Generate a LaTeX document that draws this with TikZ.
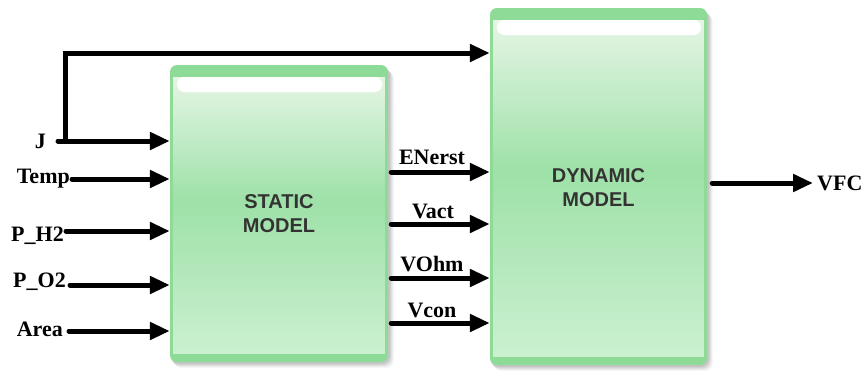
\documentclass[tikz,border=0pt]{standalone}
\usepackage{fontspec}
\setmainfont{Liberation Serif}
\setsansfont{Liberation Sans}
\usetikzlibrary{arrows.meta,calc}
\definecolor{gband}{RGB}{142,219,152}
\definecolor{gtop}{RGB}{228,245,228}
\definecolor{gmid}{RGB}{158,225,168}
\definecolor{gbot}{RGB}{202,240,207}
\definecolor{ttl}{RGB}{51,51,51}
\tikzset{
  arr/.style={line width=5pt, line cap=round, -{Triangle[length=20pt,width=17pt]}},
  lbl/.style={font=\fontsize{22}{24}\selectfont\bfseries, inner sep=0pt},
  ttlf/.style={font=\sffamily\bfseries\fontsize{20}{24}\selectfont, text=ttl, align=center},
  blk/.style={draw=none, inner sep=0pt},
}
\newcommand\drawgreenbox[4]{%
  \foreach \k/\o in {6/0.03,5/0.04,4/0.05,3/0.06,2/0.07}{%
    \fill[black,opacity=\o,rounded corners=8pt] (#1+\k-2,#2+\k) rectangle (#3+\k,#4+\k);}
  \fill[gband, rounded corners=7pt] (#1,#2) rectangle (#3,#4);
  \pgfmathsetmacro\gstep{(#4-#2-21)/80}%
  \foreach \i in {0,...,79}{%
    \pgfmathsetmacro\ya{#2+12+\gstep*\i}%
    \pgfmathsetmacro\yb{\ya+\gstep+0.6}%
    \pgfmathsetmacro\gfr{\i/79}%
    \pgfmathsetmacro\pa{min(100,100*\gfr/0.45)}%
    \pgfmathsetmacro\pb{max(0,100*(\gfr-0.45)/0.55)}%
    \fill[gmid!\pa!gtop] (#1+3,\ya) rectangle (#3-3,\yb);
    \ifdim\gfr pt>0.45pt \fill[gbot!\pb!gmid] (#1+3,\ya) rectangle (#3-3,\yb);\fi
  }
  \fill[white, rounded corners=7pt] (#1+7,#2+12) rectangle (#3-6,#2+27);
}
\begin{document}
\begin{tikzpicture}[x=1pt,y=-1pt]
\useasboundingbox (0,0) rectangle (861,372);
% boxes
\drawgreenbox{170}{65}{388}{362}
\drawgreenbox{490}{8}{707}{365}
\node[blk, ttlf, minimum width=218pt, minimum height=297pt] (static) at (279,214) {STATIC\\MODEL};
\node[blk, ttlf, minimum width=217pt, minimum height=357pt] (dynamic) at (598.5,188) {DYNAMIC\\MODEL};
% row coordinates
\coordinate (rTop) at (0,53);
\coordinate (rJ) at (0,141);
\coordinate (rT) at (0,179);
\coordinate (rH) at (0,231);
\coordinate (rO) at (0,285);
\coordinate (rA) at (0,331);
\coordinate (rE) at (0,172);
\coordinate (rV) at (0,224);
\coordinate (rR) at (0,278);
\coordinate (rC) at (0,323);
\coordinate (rF) at (0,183);
% input labels
\node[lbl, anchor=base east] (J) at (46,148) {J};
\node[lbl, anchor=base east] (Temp) at (70,183) {Temp};
\node[lbl, anchor=base east] (PH) at (64,241) {P\_H2};
\node[lbl, anchor=base east] (PO) at (66,287) {P\_O2};
\node[lbl, anchor=base east] (Area) at (63,336) {Area};
% input arrows
\coordinate (jb) at (65,141);
\draw[arr] ($(J.east |- rJ)+(12,0)$) -- (static.west |- rJ);
\draw[arr] (jb) -- (jb |- rTop) -- (dynamic.west |- rTop);
\draw[arr] ($(Temp.east |- rT)+(2,0)$) -- (static.west |- rT);
\draw[arr] ($(PH.east |- rH)+(2,0)$) -- (static.west |- rH);
\draw[arr] ($(PO.east |- rO)+(4,0)$) -- (static.west |- rO);
\draw[arr] ($(Area.east |- rA)+(6,0)$) -- (static.west |- rA);
% intermediate labels
\node[lbl, anchor=base] (lE) at (432,164) {ENerst};
\node[lbl, anchor=base] (lV) at (433,218) {Vact};
\node[lbl, anchor=base] (lR) at (432,271) {VOhm};
\node[lbl, anchor=base] (lC) at (432,317) {Vcon};
\draw[arr] ($(static.east |- rE)+(3,0)$) -- (dynamic.west |- rE);
\draw[arr] ($(static.east |- rV)+(3,0)$) -- (dynamic.west |- rV);
\draw[arr] ($(static.east |- rR)+(3,0)$) -- (dynamic.west |- rR);
\draw[arr] ($(static.east |- rC)+(3,0)$) -- (dynamic.west |- rC);
% output
\node[lbl, anchor=base west] (VFC) at (817,190) {VFC};
\draw[arr] ($(dynamic.east |- rF)+(5,0)$) -- ($(VFC.west |- rF)+(-4,0)$);
\end{tikzpicture}
\end{document}
